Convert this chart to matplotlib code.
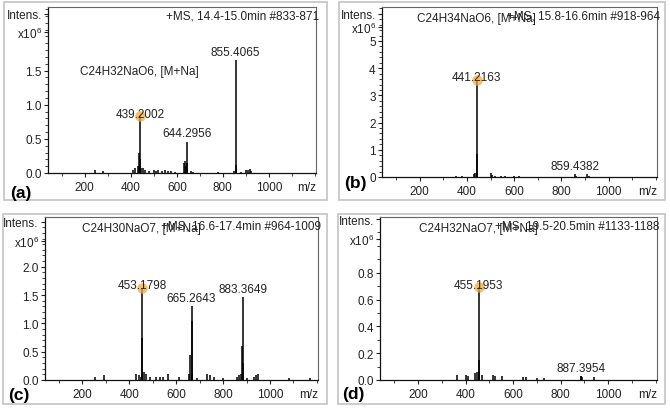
import numpy as np
import matplotlib
matplotlib.use("Agg")
import matplotlib.pyplot as plt
from matplotlib.patches import Rectangle
from matplotlib.ticker import MultipleLocator

plt.rcParams['font.family'] = ['Liberation Sans', 'DejaVu Sans']
plt.rcParams['mathtext.fontset'] = 'custom'
plt.rcParams['mathtext.rm'] = 'Liberation Sans'
plt.rcParams['mathtext.it'] = 'Liberation Sans:italic'
plt.rcParams['font.size'] = 8.5

# ---- spectra (m/z, intensity x10^6) ----
mz_a = [245, 280, 410, 420, 432, 437, 439.2002, 440.2, 441.2, 446, 455, 462, 480, 500, 510,
        520, 535, 550, 560, 575, 590, 632, 637, 640, 644.2956, 645.3, 646.3, 660, 672, 780,
        850, 855.4065, 856.4, 857.4, 880, 900, 910, 918, 922]
int_a = [0.05, 0.03, 0.05, 0.08, 0.10, 0.30, 0.83, 0.20, 0.10, 0.08, 0.07, 0.04, 0.03, 0.04, 0.03,
         0.04, 0.03, 0.05, 0.03, 0.03, 0.02, 0.15, 0.17, 0.10, 0.46, 0.15, 0.06, 0.03, 0.02, 0.02,
         0.03, 1.66, 0.12, 0.05, 0.02, 0.04, 0.05, 0.06, 0.03]

mz_b = [355, 380, 431, 436, 441.2163, 442.2, 443.2, 500, 505, 520, 545, 560, 600, 620,
        859.4382, 860.4, 910, 915]
int_b = [0.03, 0.05, 0.10, 0.15, 3.58, 0.85, 0.15, 0.15, 0.08, 0.05, 0.04, 0.05, 0.03, 0.02,
         0.12, 0.05, 0.12, 0.05]

mz_c = [255, 290, 430, 440, 448, 453.1798, 454.2, 455.2, 462, 470, 490, 515, 530, 545, 565,
        610, 655, 660, 665.2643, 666.3, 668, 690, 730, 745, 760, 800, 860, 870, 878, 881,
        883.3649, 884.4, 900, 930, 940, 948, 1080, 1170]
int_c = [0.06, 0.08, 0.10, 0.08, 0.05, 1.63, 0.75, 0.20, 0.15, 0.10, 0.06, 0.06, 0.05, 0.05, 0.10,
         0.05, 0.10, 0.45, 1.31, 1.05, 0.10, 0.04, 0.10, 0.08, 0.06, 0.04, 0.05, 0.08, 0.10, 0.60,
         1.47, 0.30, 0.03, 0.05, 0.08, 0.10, 0.03, 0.04]

mz_d = [365, 400, 410, 440, 450, 455.1953, 456.2, 457.2, 470, 515, 525, 555, 640, 655, 700,
        730, 885, 887.3954, 890, 940]
int_d = [0.04, 0.04, 0.03, 0.05, 0.06, 0.69, 0.15, 0.06, 0.04, 0.04, 0.03, 0.03, 0.02, 0.02, 0.015,
         0.015, 0.03, 0.03, 0.02, 0.02]

# labelled peaks, the first one carries the orange marker
peaks_a = ['439.2002', '644.2956', '855.4065']
peaks_b = ['441.2163', '859.4382']
peaks_c = ['453.1798', '665.2643', '883.3649']
peaks_d = ['455.1953', '887.3954']

formulas = ['C24H32NaO6, [M+Na]', 'C24H34NaO6, [M+Na]', 'C24H30NaO7, [M+Na]', 'C24H32NaO7, [M+Na]']
titles = ['+MS, 14.4-15.0min #833-871', '+MS, 15.8-16.6min #918-964',
          '+MS, 16.6-17.4min #964-1009', '+MS, 19.5-20.5min #1133-1188']
letters = ['(a)', '(b)', '(c)', '(d)']

W, H = 670, 410
fig = plt.figure(figsize=(6.7, 4.1), dpi=100)

def px_axes(l, r, t, b):
    return fig.add_axes([l / W, 1 - b / H, (r - l) / W, (b - t) / H])

# panel frames (px: left, right, top, bottom)
frames = [(4, 327, 3, 201), (339, 665, 3, 201), (3, 327, 215, 405), (338, 665, 215, 405)]
for l, r, t, b in frames:
    fig.patches.append(Rectangle((l / W, 1 - b / H), (r - l) / W, (b - t) / H,
                                 transform=fig.transFigure, fill=False,
                                 edgecolor='#c4c4c4', linewidth=1.2))

boxes = [(48, 316, 8, 174), (382, 657, 8, 178), (45, 318, 218, 381), (380, 657, 218, 381)]
ymaxs = [2.43, 6.25, 2.88, 1.215]
yticks = [[0, 0.5, 1.0, 1.5], [0, 1, 2, 3, 4, 5], [0, 0.5, 1.0, 1.5, 2.0], [0, 0.2, 0.4, 0.6, 0.8]]
yfmt = ['%.1f', '%d', '%.1f', '%.1f']
intens_pos = [(2.33, 2.06), (6.0, 5.5), (2.8, 2.45), (1.2, 1.05)]
yminor = [0.1, 0.2, 0.1, 0.1]
formula_y = [1.5, None, None, None]
letter_pos = [(21, 194), (355, 184), (19, 396), (353, 395)]

spectra = [(mz_a, int_a, peaks_a), (mz_b, int_b, peaks_b), (mz_c, int_c, peaks_c), (mz_d, int_d, peaks_d)]

for i in range(4):
    mz, inten, peaks = spectra[i]
    ax = px_axes(*boxes[i])
    ax.vlines(mz, 0, inten, color='black', linewidth=1.1)
    ax.set_xlim(40, 1205)
    ax.set_ylim(0, ymaxs[i])

    ax.set_xticks([200, 400, 600, 800, 1000])
    ax.xaxis.set_minor_locator(MultipleLocator(100))
    yt = yticks[i] + [intens_pos[i][1], intens_pos[i][0]]
    yl = [yfmt[i] % v for v in yticks[i]] + ['x10$^{6}$', 'Intens.']
    ax.set_yticks(yt)
    ax.set_yticklabels(yl)
    ax.yaxis.set_minor_locator(MultipleLocator(yminor[i]))
    ax.tick_params(axis='both', which='major', length=3, width=0.8, pad=1.5, colors='#222222',
                   labelsize=8.5)
    ax.tick_params(axis='both', which='minor', length=2, width=0.6, color='#222222')
    ax.tick_params(axis='x', pad=3)

    for s in ['top', 'right']:
        ax.spines[s].set_color('#666666')
        ax.spines[s].set_linewidth(0.8)
    for s in ['bottom', 'left']:
        ax.spines[s].set_color('#111111')
        ax.spines[s].set_linewidth(0.9)

    ax.annotate('m/z', xy=(1165, 0), xycoords=('data', 'axes fraction'), xytext=(0, -6),
                textcoords='offset points', ha='center', va='top', fontsize=8.5, color='#222222')

    # peak labels
    for j, lab in enumerate(peaks):
        x = float(lab)
        k = int(np.argmin(np.abs(np.array(mz) - x)))
        y = inten[k]
        if j == 0:
            ax.plot([x], [y], 'o', color='#f5a835', alpha=0.75, markersize=7.5, markeredgewidth=0,
                    zorder=3)
            ax.annotate(lab, (x, y), xytext=(0, 2), textcoords='offset points', ha='center',
                        va='center', fontsize=8.5, color='#222222', zorder=4)
        else:
            ax.annotate(lab, (x, y), xytext=(0, 1.5), textcoords='offset points', ha='center',
                        va='bottom', fontsize=8.5, color='#222222')

    main = float(peaks[0])
    if formula_y[i] is not None:
        ax.text(main, formula_y[i], formulas[i], ha='center', va='center', fontsize=8.5,
                color='#222222')
    else:
        ax.annotate(formulas[i], xy=(main, 1), xycoords=('data', 'axes fraction'),
                    xytext=(0, -8), textcoords='offset points', ha='center', va='center',
                    fontsize=8.5, color='#222222')
    ax.annotate(titles[i], xy=(1, 1), xycoords='axes fraction', xytext=(2, -6),
                textcoords='offset points', ha='right', va='center', fontsize=8.5, color='#222222')

    lx, ly = letter_pos[i]
    fig.text(lx / W, 1 - ly / H, letters[i], ha='center', va='center', fontsize=12.5,
             fontweight='bold', color='black')

fig.savefig('out.png', dpi=100)
